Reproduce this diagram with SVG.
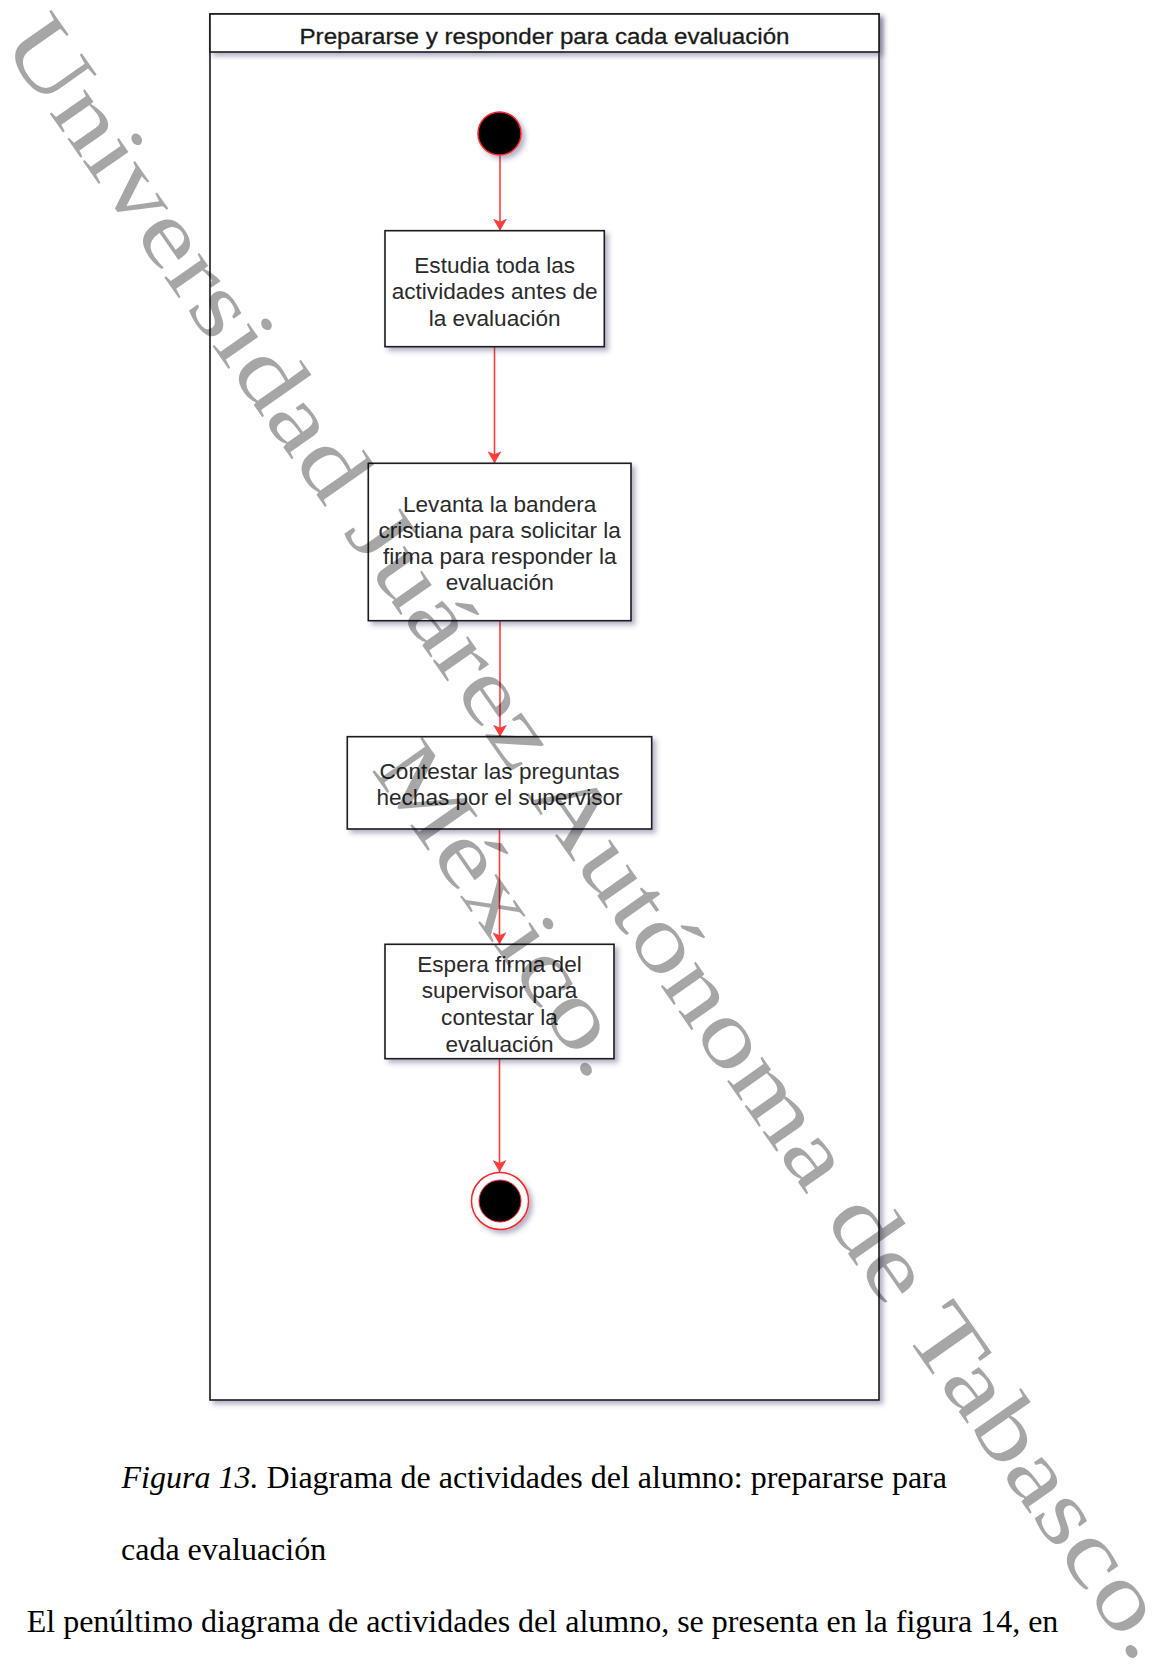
<svg xmlns="http://www.w3.org/2000/svg" width="1158" height="1673" viewBox="0 0 1158 1673">
<style>
.box{fill:#fff;stroke:#1a1a1a;stroke-width:1.6;filter:url(#sh)}
.lbl{font-family:"Liberation Sans",Arial,sans-serif;font-size:22.6px;fill:#2a2a2a;text-anchor:middle}
.title{font-family:"Liberation Sans",Arial,sans-serif;font-size:22.5px;fill:#1a1a1a;text-anchor:middle;stroke:#1a1a1a;stroke-width:0.3}
.edge{fill:none;stroke:#ff3b3b;stroke-width:1.6;marker-end:url(#arr)}
.cap{font-family:"Liberation Serif","Times New Roman",serif;font-size:32px;fill:#000}
.wm{font-family:"Liberation Serif","Times New Roman",serif;font-size:93px;fill:#000;fill-opacity:0.35}
</style>
<defs>
<filter id="sh" x="-10%" y="-10%" width="130%" height="130%">
<feDropShadow dx="3.5" dy="3.5" stdDeviation="2.5" flood-color="#3c3c70" flood-opacity="0.4"/>
</filter>
<marker id="arr" viewBox="0 0 12 14" refX="12" refY="7" markerWidth="12" markerHeight="14" markerUnits="userSpaceOnUse" orient="auto">
<path d="M0,0 L12,7 L0,14 L3,7 Z" fill="#ff3b3b"/>
</marker>
</defs>
<rect width="1158" height="1673" fill="#fff"/>
<g id="swimlane">
<rect class="box" x="210" y="14" width="669" height="1386"/>
<rect class="box" x="210" y="14" width="669" height="38"/>
<text class="title" x="544.5" y="43.5" textLength="490" lengthAdjust="spacingAndGlyphs">Prepararse y responder para cada evaluación</text>
</g>
<g id="connectors">
<path class="edge" d="M500,155.5 L500,230.7"/>
<path class="edge" d="M494.5,346.7 L494.5,463.3"/>
<path class="edge" d="M500,620.7 L500,736.7"/>
<path class="edge" d="M499.5,829 L499.5,944.3"/>
<path class="edge" d="M499.5,1058.7 L499.5,1172"/>
</g>
<g id="start">
<circle cx="499.5" cy="133.5" r="21.5" fill="#000" stroke="#ff2020" stroke-width="1.5" filter="url(#sh)"/>
</g>
<g id="act1">
<rect class="box" x="385" y="230.7" width="219.3" height="116"/>
<text class="lbl" x="494.7" y="272.5">Estudia toda las</text>
<text class="lbl" x="494.7" y="299">actividades antes de</text>
<text class="lbl" x="494.7" y="325.5">la evaluación</text>
</g>
<g id="act2">
<rect class="box" x="368.3" y="463.3" width="262.7" height="157.4"/>
<text class="lbl" x="499.7" y="511.7">Levanta la bandera</text>
<text class="lbl" x="499.7" y="537.7">cristiana para solicitar la</text>
<text class="lbl" x="499.7" y="563.7">firma para responder la</text>
<text class="lbl" x="499.7" y="589.7">evaluación</text>
</g>
<g id="act3">
<rect class="box" x="347.3" y="736.7" width="304.4" height="92.3"/>
<text class="lbl" x="499.5" y="778.5">Contestar las preguntas</text>
<text class="lbl" x="499.5" y="804.5">hechas por el supervisor</text>
</g>
<g id="act4">
<rect class="box" x="385" y="944.3" width="229" height="114.4"/>
<text class="lbl" x="499.5" y="971.7">Espera firma del</text>
<text class="lbl" x="499.5" y="998.3">supervisor para</text>
<text class="lbl" x="499.5" y="1025">contestar la</text>
<text class="lbl" x="499.5" y="1051.7">evaluación</text>
</g>
<g id="end">
<circle cx="500" cy="1201" r="28.5" fill="#fff" stroke="#ff2020" stroke-width="1.5" filter="url(#sh)"/>
<circle cx="500" cy="1201" r="21" fill="#000" stroke="#ff2020" stroke-width="1"/>
</g>
<g id="caption">
<text class="cap" x="121.5" y="1488"><tspan font-style="italic">Figura 13.</tspan> Diagrama de actividades del alumno: prepararse para</text>
<text class="cap" x="121" y="1559.5">cada evaluación</text>
<text class="cap" x="26.7" y="1631.5">El penúltimo diagrama de actividades del alumno, se presenta en la figura 14, en</text>
</g>
<g id="watermark" class="wm" transform="translate(0.1,42.8) rotate(55) scale(1.25,1)">
<text x="0" y="0">Universidad Juárez Autónoma de Tabasco.</text>
<text x="799.5" y="113" text-anchor="middle">México.</text>
</g>
</svg>
